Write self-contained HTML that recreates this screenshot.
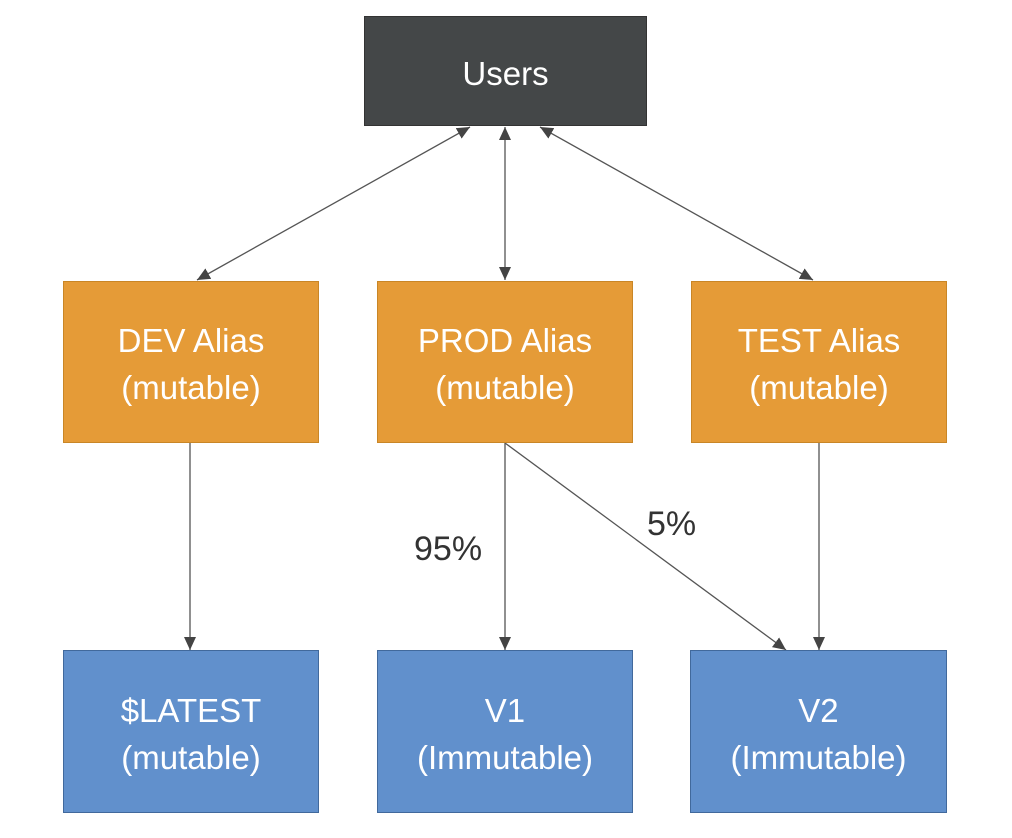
<!DOCTYPE html>
<html><head><style>
body{margin:0;background:#fff;width:1012px;height:838px;overflow:hidden;position:relative;font-family:"Liberation Sans",sans-serif}
.b{position:absolute;box-sizing:border-box;display:flex;align-items:center;justify-content:center;text-align:center;color:#fff;font-size:33px;line-height:47px;padding-top:4px}
.u{background:#444748;border:1px solid #333}
.o{background:#e59b37;border:1px solid #c98626}
.l{background:#6190cc;border:1.5px solid #41699c}
.t{position:absolute;font-size:34px;color:#333}
</style></head><body>
<svg width="1012" height="838" style="position:absolute;left:0;top:0">
<defs><marker id="a" markerWidth="14" markerHeight="14" refX="13" refY="6" orient="auto-start-reverse" markerUnits="userSpaceOnUse"><path d="M0,0L13,6L0,12z" fill="#444"/></marker></defs>
<g stroke="#555" stroke-width="1.3" fill="none">
<line x1="470" y1="127" x2="197" y2="280" marker-start="url(#a)" marker-end="url(#a)"/>
<line x1="505" y1="127" x2="505" y2="280" marker-start="url(#a)" marker-end="url(#a)"/>
<line x1="540" y1="127" x2="813" y2="280" marker-start="url(#a)" marker-end="url(#a)"/>
<line x1="190" y1="443" x2="190" y2="650" marker-end="url(#a)"/>
<line x1="505" y1="443" x2="505" y2="650" marker-end="url(#a)"/>
<line x1="505" y1="443" x2="786" y2="650" marker-end="url(#a)"/>
<line x1="819" y1="443" x2="819" y2="650" marker-end="url(#a)"/>
</g></svg>
<div class="b u" style="left:364px;top:16px;width:283px;height:110px">Users</div>
<div class="b o" style="left:63px;top:281px;width:256px;height:162px">DEV Alias<br>(mutable)</div>
<div class="b o" style="left:377px;top:281px;width:256px;height:162px">PROD Alias<br>(mutable)</div>
<div class="b o" style="left:691px;top:281px;width:256px;height:162px">TEST Alias<br>(mutable)</div>
<div class="b l" style="left:63px;top:650px;width:256px;height:163px">$LATEST<br>(mutable)</div>
<div class="b l" style="left:377px;top:650px;width:256px;height:163px">V1<br>(Immutable)</div>
<div class="b l" style="left:690px;top:650px;width:257px;height:163px">V2<br>(Immutable)</div>
<div class="t" style="left:414px;top:530px">95%</div>
<div class="t" style="left:647px;top:505px">5%</div>
</body></html>
